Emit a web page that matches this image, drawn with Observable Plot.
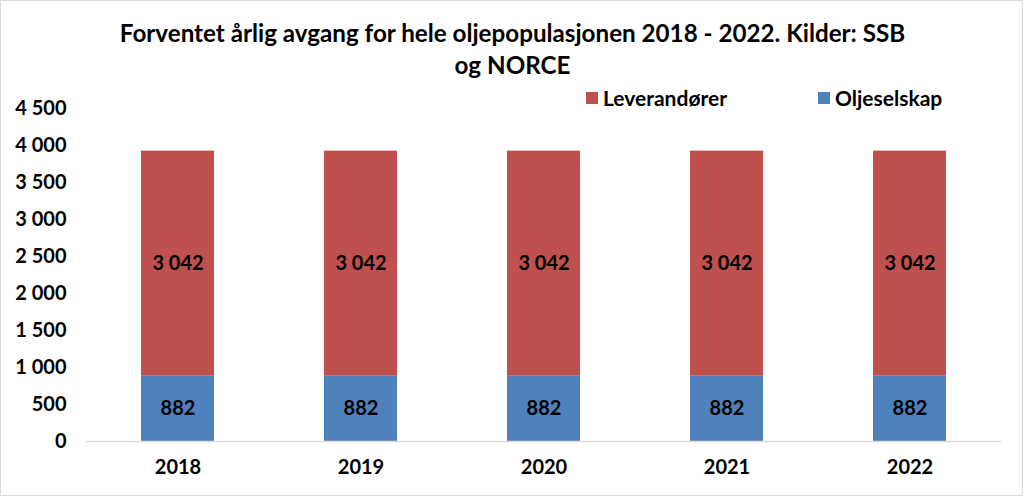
<!DOCTYPE html>
<html>
<head>
<meta charset="utf-8">
<script src="https://cdn.jsdelivr.net/npm/d3@7"></script>
<script src="https://cdn.jsdelivr.net/npm/@observablehq/plot@0.6"></script>
<style>
  html, body { margin: 0; padding: 0; background: #fff; }
  #frame { position: relative; width: 1023px; height: 496px; box-sizing: border-box; border: 1px solid #d9d9d9; overflow: hidden; font-family: Lato, "Open Sans", sans-serif; }
  .title { position: absolute; left: 0; width: 1023px; text-align: center; font-weight: bold; font-size: 24.2px; line-height: 26px; color: #000; }
  #legend { position: absolute; top: 84px; left: 0; width: 1023px; height: 24px; font-weight: bold; font-size: 21px; color: #000; }
  .item { position: absolute; display: flex; align-items: center; }
  .sw { width: 12px; height: 12px; margin-right: 5px; }
  #chart { position: absolute; left: 0; top: 88px; }
</style>
</head>
<body>
<div id="frame">
  <div class="title" style="top:19px">Forventet årlig avgang for hele oljepopulasjonen 2018 - 2022. Kilder: SSB</div>
  <div class="title" style="top:51px">og NORCE</div>
  <div id="legend"></div>
  <div id="chart"></div>
</div>
<script>
const years = ["2018", "2019", "2020", "2021", "2022"];
const oljeselskap = [882, 882, 882, 882, 882];
const leverandorer = [3042, 3042, 3042, 3042, 3042];
const seriesNames = ["Oljeselskap", "Leverandører"];
const seriesColors = ["#4F81BD", "#C0504D"];
const yTicks = [0, 500, 1000, 1500, 2000, 2500, 3000, 3500, 4000, 4500];

const locale = d3.formatLocale({decimal: ",", thousands: " ", grouping: [3], currency: ["", ""]});
const fmt = locale.format(",d");

const rows = [];
years.forEach((y, i) => {
  rows.push({year: y, series: seriesNames[0], value: oljeselskap[i]});
  rows.push({year: y, series: seriesNames[1], value: leverandorer[i]});
});

const chart = Plot.plot({
  width: 1021,
  height: 406,
  marginLeft: 85,
  marginRight: 21,
  marginTop: 19,
  marginBottom: 54,
  style: {fontFamily: "Lato, 'Open Sans', sans-serif", fontSize: "20px", fontWeight: "bold", color: "#000", background: "transparent"},
  x: {domain: years, paddingInner: 0.6, paddingOuter: 0.3, label: null, tickSize: 0, tickPadding: 18},
  y: {domain: [0, 4500], ticks: yTicks, tickFormat: fmt, label: null, tickSize: 0, tickPadding: 20},
  color: {domain: seriesNames, range: seriesColors},
  marks: [
    Plot.barY(rows, Plot.stackY({x: "year", y: "value", fill: "series", z: "series", order: seriesNames})),
    Plot.ruleY([0], {stroke: "#d9d9d9", strokeWidth: 1.5}),
    Plot.text(rows, Plot.stackY({x: "year", y: "value", z: "series", order: seriesNames, text: d => fmt(d.value), fill: "#000", fontSize: 20, fontWeight: "bold"}))
  ]
});
document.getElementById("chart").appendChild(chart);

const legend = document.getElementById("legend");
const legendItems = [
  {name: seriesNames[1], color: seriesColors[1], left: 585},
  {name: seriesNames[0], color: seriesColors[0], left: 817}
];
legendItems.forEach(it => {
  const d = document.createElement("div");
  d.className = "item";
  d.style.left = it.left + "px";
  const s = document.createElement("div");
  s.className = "sw";
  s.style.background = it.color;
  const t = document.createElement("span");
  t.textContent = it.name;
  d.appendChild(s); d.appendChild(t);
  legend.appendChild(d);
});
</script>
</body>
</html>
